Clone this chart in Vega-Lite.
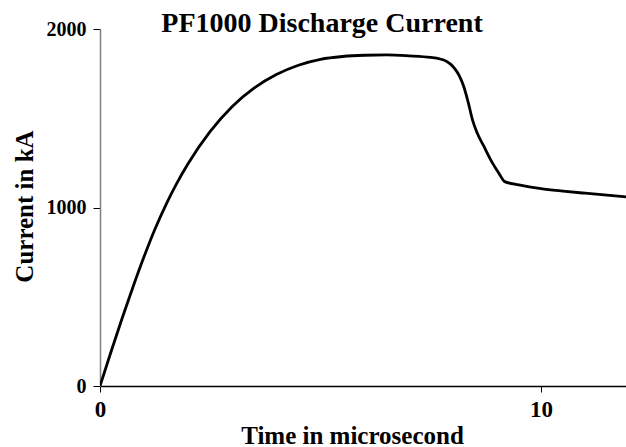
{
  "$schema": "https://vega.github.io/schema/vega-lite/v6.json",
  "width": 526,
  "height": 357,
  "autosize": {"type": "none"},
  "padding": {"left": 100, "top": 29, "right": 0, "bottom": 61},
  "background": "white",
  "title": {
    "text": "PF1000 Discharge Current",
    "font": "Liberation Serif",
    "fontSize": 28,
    "fontWeight": "bold",
    "color": "black",
    "anchor": "middle",
    "frame": "group",
    "dx": -41,
    "dy": 41,
    "baseline": "alphabetic",
    "offset": 0
  },
  "config": {"view": {"stroke": null}},
  "data": {
    "values": [
      {"t": 0, "current": 0},
      {"t": 0.25, "current": 192},
      {"t": 0.5, "current": 378},
      {"t": 0.75, "current": 556},
      {"t": 1.0, "current": 725},
      {"t": 1.25, "current": 881},
      {"t": 1.5, "current": 1018},
      {"t": 1.75, "current": 1139},
      {"t": 2.0, "current": 1246},
      {"t": 2.5, "current": 1426},
      {"t": 3.0, "current": 1566},
      {"t": 3.5, "current": 1670},
      {"t": 4.0, "current": 1745},
      {"t": 4.5, "current": 1797},
      {"t": 5.0, "current": 1830},
      {"t": 5.5, "current": 1846},
      {"t": 6.0, "current": 1853},
      {"t": 6.5, "current": 1855},
      {"t": 7.0, "current": 1850},
      {"t": 7.5, "current": 1841},
      {"t": 7.7, "current": 1833},
      {"t": 7.85, "current": 1820},
      {"t": 7.95, "current": 1803},
      {"t": 8.05, "current": 1777},
      {"t": 8.15, "current": 1738},
      {"t": 8.25, "current": 1678},
      {"t": 8.35, "current": 1590},
      {"t": 8.45, "current": 1490},
      {"t": 8.55, "current": 1420},
      {"t": 8.7, "current": 1346},
      {"t": 8.9, "current": 1250},
      {"t": 9.05, "current": 1191},
      {"t": 9.18, "current": 1145},
      {"t": 9.5, "current": 1127},
      {"t": 10.0, "current": 1106},
      {"t": 10.5, "current": 1092},
      {"t": 11.0, "current": 1080},
      {"t": 11.5, "current": 1069},
      {"t": 11.93, "current": 1060}
    ]
  },
  "mark": {"type": "line", "color": "black", "strokeWidth": 2.8, "interpolate": "monotone", "clip": true},
  "encoding": {
    "x": {
      "field": "t",
      "type": "quantitative",
      "scale": {"domain": [0, 11.93], "nice": false, "zero": false},
      "axis": {
        "title": "Time in microsecond",
        "values": [0, 10],
        "format": "d",
        "grid": false,
        "domainColor": "black",
        "domainWidth": 1.5,
        "tickColor": "black",
        "tickWidth": 1,
        "tickSize": 6,
        "labelPadding": 6,
        "labelFont": "Liberation Serif",
        "labelFontSize": 23,
        "labelFontWeight": "bold",
        "labelColor": "black",
        "labelFlush": false,
        "titleFont": "Liberation Serif",
        "titleFontSize": 25,
        "titleFontWeight": "bold",
        "titleColor": "black",
        "titleX": 252,
        "titleY": 57,
        "titleAlign": "center",
        "titleBaseline": "alphabetic"
      }
    },
    "y": {
      "field": "current",
      "type": "quantitative",
      "scale": {"domain": [0, 2000], "nice": false},
      "axis": {
        "title": "Current in kA",
        "values": [0, 1000, 2000],
        "format": "d",
        "grid": false,
        "domainColor": "#808080",
        "domainWidth": 1.5,
        "tickColor": "black",
        "tickWidth": 1,
        "tickSize": 7,
        "labelPadding": 7,
        "labelFont": "Liberation Serif",
        "labelFontSize": 20,
        "labelFontWeight": "bold",
        "labelColor": "black",
        "labelFlush": false,
        "titleFont": "Liberation Serif",
        "titleFontSize": 25,
        "titleFontWeight": "bold",
        "titleColor": "black",
        "titleX": -68,
        "titleY": 177,
        "titleAngle": -90,
        "titleAlign": "center",
        "titleBaseline": "alphabetic"
      }
    }
  }
}
